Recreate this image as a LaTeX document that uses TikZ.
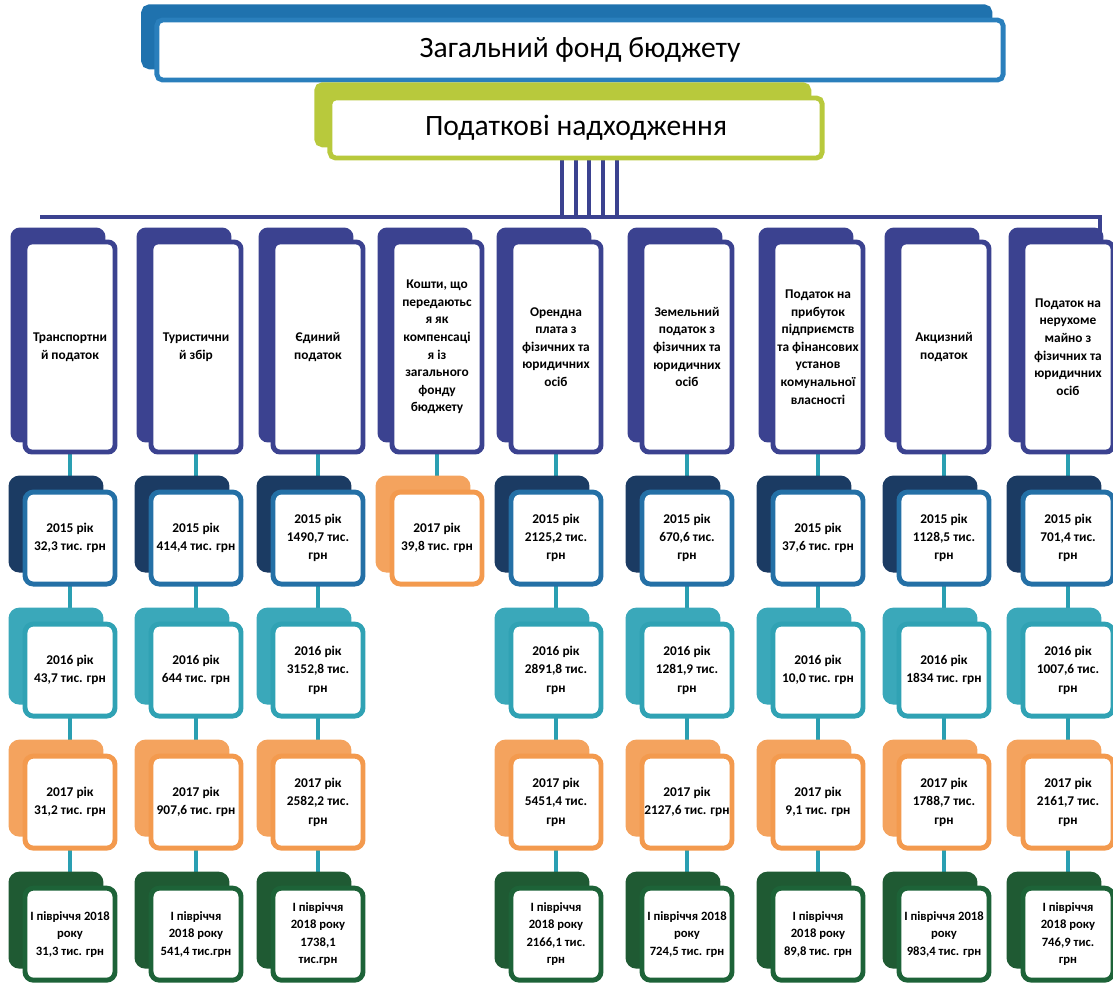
\documentclass[tikz,border=0pt]{standalone}
\usepackage{fontspec}
\setmainfont{Carlito}
\usetikzlibrary{
backgrounds,
positioning,
shadows
}

\definecolor{fundedge}{HTML}{2A7FBC}
\definecolor{fundback}{HTML}{1F72AE}
\definecolor{taxedge}{HTML}{B8C93C}
\definecolor{catnavy}{HTML}{3B4290}
\definecolor{linkteal}{HTML}{2A9FB2}
\definecolor{edgeA}{HTML}{2470A6}
\definecolor{backA}{HTML}{1B3B63}
\definecolor{edgeB}{HTML}{30A2B4}
\definecolor{backB}{HTML}{3AA8BA}
\definecolor{edgeC}{HTML}{F39A4E}
\definecolor{backC}{HTML}{F4A35E}
\definecolor{edgeD}{HTML}{1D6338}
\definecolor{backD}{HTML}{1F5A33}

\begin{document}
\begin{tikzpicture}[x=0.025cm, y=-0.025cm, node distance=1cm]
		\tikzset{headbox/.style 2 args={draw=#1,fill=white,line width=3.5pt,rounded corners=4pt,outer sep=0pt,minimum height=1.5cm,font=\fontsize{21}{25}\selectfont,copy shadow={shadow xshift=-0.33cm,shadow yshift=0.33cm,fill=#2,draw=#2}}}
		\tikzset{catbox/.style={draw=catnavy,fill=white,line width=3.5pt,rounded corners=5pt,outer sep=0pt,inner sep=1pt,minimum width=2.25cm,minimum height=5.25cm,align=center,font=\bfseries\fontsize{9.5}{12.5}\selectfont,copy shadow={shadow xshift=-0.3cm,shadow yshift=0.3cm,fill=catnavy,draw=catnavy}}}
		\tikzset{yearbox/.style 2 args={draw=#1,fill=white,line width=3.5pt,rounded corners=6pt,outer sep=0pt,inner sep=1pt,minimum width=2.25cm,minimum height=2.3cm,align=center,font=\bfseries\fontsize{9.5}{13}\selectfont,copy shadow={shadow xshift=-0.35cm,shadow yshift=0.35cm,fill=#2,draw=#2}}}
		\tikzset{yrA/.style={yearbox={edgeA}{backA}}, yrB/.style={yearbox={edgeB}{backB}}, yrC/.style={yearbox={edgeC}{backC}}, yrD/.style={yearbox={edgeD}{backD},font=\bfseries\fontsize{9}{12.5}\selectfont}}
		\tikzset{busline/.style={draw=catnavy,line width=3.5pt}, link/.style={draw=linkteal,line width=3.5pt}}
		
		\useasboundingbox (0,0) rectangle (1113,982);
		
		\node[headbox={fundedge}{fundback},minimum width=21.15cm] (fund) at (580,50) {Загальний фонд бюджету};
		\node[headbox={taxedge}{taxedge},minimum width=12.3cm] (tax) at (576,128) {Податкові надходження};
		
		\coordinate (barL) at (40,217);
		\coordinate (barR) at (1100,217);
		\coordinate (barEnd) at (1100,235);
		
		% categories
		\node[catbox] (trans) at (70,347) {Транспортни\\й податок};
		\node[catbox] (tour) at (196,347) {Туристични\\й збір};
		\node[catbox] (single) at (318,347) {Єдиний\\податок};
		\node[catbox] (comp) at (437,347) {Кошти, що\\передаютьс\\я як\\компенсаці\\я із\\загального\\фонду\\бюджету};
		\node[catbox] (rent) at (556,347) {Орендна\\плата з\\фізичних та\\юридичних\\осіб};
		\node[catbox] (land) at (687,347) {Земельний\\податок з\\фізичних та\\юридичних\\осіб};
		\node[catbox] (profit) at (818,347) {Податок на\\прибуток\\підприємств\\та фінансових\\установ\\комунальної\\власності};
		\node[catbox] (excise) at (944,347) {Акцизний\\податок};
		\node[catbox] (estate) at (1068,347) {Податок на\\нерухоме\\майно з\\фізичних та\\юридичних\\осіб};
		
		% 2015
		\node[yrA,below=of trans] (trans2015) {2015 рік\\32,3 тис. грн};
		\node[yrA,below=of tour] (tour2015) {2015 рік\\414,4 тис. грн};
		\node[yrA,below=of single] (single2015) {2015 рік\\1490,7 тис.\\грн};
		\node[yrC,below=of comp] (comp2017) {2017 рік\\39,8 тис. грн};
		\node[yrA,below=of rent] (rent2015) {2015 рік\\2125,2 тис.\\грн};
		\node[yrA,below=of land] (land2015) {2015 рік\\670,6 тис.\\грн};
		\node[yrA,below=of profit] (profit2015) {2015 рік\\37,6 тис. грн};
		\node[yrA,below=of excise] (excise2015) {2015 рік\\1128,5 тис.\\грн};
		\node[yrA,below=of estate] (estate2015) {2015 рік\\701,4 тис.\\грн};
		
		% 2016
		\node[yrB,below=of trans2015] (trans2016) {2016 рік\\43,7 тис. грн};
		\node[yrB,below=of tour2015] (tour2016) {2016 рік\\644 тис. грн};
		\node[yrB,below=of single2015] (single2016) {2016 рік\\3152,8 тис.\\грн};
		\node[yrB,below=of rent2015] (rent2016) {2016 рік\\2891,8 тис.\\грн};
		\node[yrB,below=of land2015] (land2016) {2016 рік\\1281,9 тис.\\грн};
		\node[yrB,below=of profit2015] (profit2016) {2016 рік\\10,0 тис. грн};
		\node[yrB,below=of excise2015] (excise2016) {2016 рік\\1834 тис. грн};
		\node[yrB,below=of estate2015] (estate2016) {2016 рік\\1007,6 тис.\\грн};
		
		% 2017
		\node[yrC,below=of trans2016] (trans2017) {2017 рік\\31,2 тис. грн};
		\node[yrC,below=of tour2016] (tour2017) {2017 рік\\907,6 тис. грн};
		\node[yrC,below=of single2016] (single2017) {2017 рік\\2582,2 тис.\\грн};
		\node[yrC,below=of rent2016] (rent2017) {2017 рік\\5451,4 тис.\\грн};
		\node[yrC,below=of land2016] (land2017) {2017 рік\\2127,6 тис. грн};
		\node[yrC,below=of profit2016] (profit2017) {2017 рік\\9,1 тис. грн};
		\node[yrC,below=of excise2016] (excise2017) {2017 рік\\1788,7 тис.\\грн};
		\node[yrC,below=of estate2016] (estate2017) {2017 рік\\2161,7 тис.\\грн};
		
		% 2018
		\node[yrD,below=of trans2017] (trans2018) {І півріччя 2018\\року\\31,3 тис. грн};
		\node[yrD,below=of tour2017] (tour2018) {І півріччя\\2018 року\\541,4 тис.грн};
		\node[yrD,below=of single2017] (single2018) {І півріччя\\2018 року\\1738,1\\тис.грн};
		\node[yrD,below=of rent2017] (rent2018) {І півріччя\\2018 року\\2166,1 тис.\\грн};
		\node[yrD,below=of land2017] (land2018) {І півріччя 2018\\року\\724,5 тис. грн};
		\node[yrD,below=of profit2017] (profit2018) {І півріччя\\2018 року\\89,8 тис. грн};
		\node[yrD,below=of excise2017] (excise2018) {І півріччя 2018\\року\\983,4 тис. грн};
		\node[yrD,below=of estate2017] (estate2018) {І півріччя\\2018 року\\746,9 тис.\\грн};
		
		\begin{scope}[on background layer]
			\draw[busline] (barL) -- (barR) -- (barEnd);
			\foreach \dx in {-14,0,13,27,41}
				\draw[busline] ([xshift=\dx*0.025cm]tax.south) coordinate (tp) -- (tp |- barL);
			\foreach \col in {trans,tour,single,rent,land,profit,excise,estate}
				\draw[link] (\col) -- (\col2015) -- (\col2016) -- (\col2017) -- (\col2018);
			\draw[link] (comp) -- (comp2017);
		\end{scope}
	\end{tikzpicture}
\end{document}
